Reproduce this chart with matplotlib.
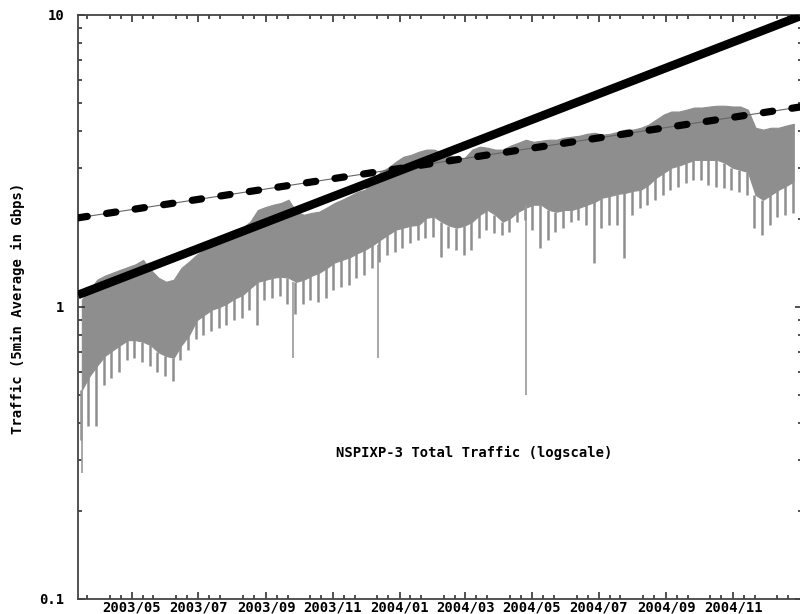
import matplotlib
matplotlib.use("Agg")
import matplotlib.pyplot as plt
import matplotlib.dates as mdates
from matplotlib.ticker import FixedLocator, FixedFormatter, LogLocator, NullFormatter
import pandas as pd

# weekly samples of the 5min traffic (Gbps)
week_start = pd.date_range("2003-03-13", periods=94, freq="7D")
peak_gbps = [
    1.06, 1.14, 1.24, 1.28, 1.31, 1.34, 1.37, 1.40, 1.45, 1.34,
    1.26, 1.22, 1.24, 1.36, 1.43, 1.51, 1.57, 1.63, 1.72, 1.79,
    1.84, 1.87, 1.96, 2.15, 2.20, 2.24, 2.27, 2.33, 2.12, 2.07,
    2.10, 2.12, 2.19, 2.27, 2.33, 2.40, 2.48, 2.52, 2.73, 2.90,
    3.00, 3.14, 3.27, 3.32, 3.40, 3.46, 3.46, 3.38, 3.32, 3.24,
    3.24, 3.46, 3.54, 3.51, 3.46, 3.46, 3.57, 3.65, 3.74, 3.68,
    3.71, 3.74, 3.74, 3.80, 3.83, 3.86, 3.92, 3.95, 3.89, 3.92,
    3.98, 4.05, 4.05, 4.11, 4.21, 4.38, 4.56, 4.67, 4.67, 4.74,
    4.82, 4.82, 4.86, 4.89, 4.89, 4.86, 4.86, 4.74, 4.11, 4.05,
    4.11, 4.11, 4.18, 4.24,
]
body_gbps = [
    0.52, 0.58, 0.63, 0.68, 0.71, 0.74, 0.77, 0.77, 0.76, 0.74,
    0.70, 0.68, 0.67, 0.74, 0.80, 0.90, 0.94, 0.98, 1.00, 1.03,
    1.07, 1.10, 1.16, 1.22, 1.24, 1.26, 1.27, 1.26, 1.22, 1.24,
    1.28, 1.31, 1.36, 1.42, 1.45, 1.48, 1.53, 1.57, 1.63, 1.70,
    1.77, 1.84, 1.87, 1.90, 1.91, 2.02, 2.04, 1.96, 1.90, 1.87,
    1.90, 1.96, 2.07, 2.15, 2.07, 1.96, 2.02, 2.12, 2.19, 2.24,
    2.24, 2.15, 2.12, 2.15, 2.15, 2.19, 2.24, 2.29, 2.37, 2.40,
    2.44, 2.46, 2.50, 2.52, 2.62, 2.77, 2.88, 3.00, 3.05, 3.12,
    3.19, 3.19, 3.19, 3.19, 3.12, 3.00, 2.95, 2.90, 2.42, 2.33,
    2.42, 2.52, 2.60, 2.69,
]
dip_gbps = [
    0.35, 0.39, 0.39, 0.54, 0.57, 0.60, 0.66, 0.67, 0.65, 0.63,
    0.60, 0.58, 0.56, 0.66, 0.71, 0.78, 0.80, 0.83, 0.85, 0.87,
    0.90, 0.92, 0.98, 0.87, 1.06, 1.07, 1.09, 1.02, 0.95, 1.02,
    1.06, 1.04, 1.07, 1.14, 1.17, 1.19, 1.26, 1.29, 1.36, 1.43,
    1.51, 1.54, 1.59, 1.66, 1.70, 1.72, 1.74, 1.48, 1.59, 1.57,
    1.51, 1.57, 1.72, 1.84, 1.79, 1.77, 1.81, 1.96, 1.99, 1.84,
    1.59, 1.70, 1.81, 1.87, 1.96, 1.99, 1.91, 1.42, 1.87, 1.91,
    1.91, 1.47, 2.07, 2.19, 2.24, 2.33, 2.42, 2.52, 2.58, 2.66,
    2.73, 2.73, 2.62, 2.58, 2.56, 2.52, 2.48, 2.42, 1.87, 1.77,
    1.91, 2.04, 2.07, 2.10,
]
outage_dates = pd.to_datetime(["2003-03-17", "2003-09-26", "2003-12-12", "2004-04-26"])
outage_gbps = [0.27, 0.67, 0.67, 0.50]
outage_base = [0.52, 1.22, 1.63, 2.24]

# fitted growth lines (end points)
trend_dates = pd.to_datetime(["2003-03-13", "2005-01-01"])
fast_trend = [1.10, 9.9]
slow_trend = [2.02, 4.84]

x_ticks = pd.to_datetime(["2003-05-01", "2003-07-01", "2003-09-01", "2003-11-01",
                          "2004-01-01", "2004-03-01", "2004-05-01", "2004-07-01",
                          "2004-09-01", "2004-11-01"])
x_start = pd.Timestamp("2003-03-13")
x_end = pd.Timestamp("2005-01-03")

FONT = dict(family="DejaVu Sans Mono", weight="bold", size=10)
GRAY = "#8e8e8e"


def main():
    fig = plt.figure(figsize=(8, 6.14), dpi=100)
    ax = fig.add_axes([78 / 800, 15 / 614, 724 / 800, 584 / 614])

    mid = week_start + pd.Timedelta(hours=84)
    dip_x = week_start + pd.Timedelta(hours=60)
    ax.fill_between(mid, body_gbps, peak_gbps, color=GRAY, lw=0.8, edgecolor=GRAY)
    ax.vlines(dip_x, dip_gbps, body_gbps, color=GRAY, lw=1.8)
    ax.vlines(outage_dates, outage_gbps, outage_base, color="#999999", lw=1.2)

    ax.plot(trend_dates, slow_trend, color="#666666", lw=0.8, zorder=3)
    ax.plot(trend_dates, slow_trend, color="black", lw=5.2,
            linestyle=(0, (1.3, 2.7)), dash_capstyle="round", zorder=4)
    ax.plot(trend_dates, fast_trend, color="black", lw=6.2,
            solid_capstyle="butt", zorder=5)

    ax.set_yscale("log")
    ax.set_ylim(0.1, 10)
    ax.set_xlim(x_start, x_end)

    ax.xaxis.set_major_locator(FixedLocator(mdates.date2num(x_ticks)))
    ax.xaxis.set_major_formatter(mdates.DateFormatter("%Y/%m"))
    ax.xaxis.set_minor_locator(mdates.DayLocator(bymonthday=[11, 21]))
    ax.yaxis.set_major_locator(FixedLocator([0.1, 1, 10]))
    ax.yaxis.set_major_formatter(FixedFormatter(["0.1", "1", "10"]))
    ax.yaxis.set_minor_locator(LogLocator(base=10, subs=range(2, 10)))
    ax.yaxis.set_minor_formatter(NullFormatter())

    ax.tick_params(which="both", direction="in", top=True, right=True,
                   color="#333333", width=1.2)
    ax.tick_params(which="major", length=5)
    ax.tick_params(which="minor", length=3)
    ax.tick_params(axis="x", which="major", pad=1)
    ax.tick_params(axis="y", which="major", pad=10)
    for lab in ax.get_xticklabels() + ax.get_yticklabels():
        lab.set_fontfamily(FONT["family"])
        lab.set_fontweight("bold")
        lab.set_fontsize(FONT["size"])
    for sp in ax.spines.values():
        sp.set_color("#444444")
        sp.set_linewidth(1.3)

    ax.text(0.547, 0.25, "NSPIXP-3 Total Traffic (logscale)", transform=ax.transAxes,
            ha="center", va="center", **FONT)
    fig.text(18 / 800, 1 - 308 / 614, "Traffic (5min Average in Gbps)",
             rotation=90, ha="center", va="center", **FONT)

    fig.savefig("out.png", dpi=100)
    plt.close(fig)


if __name__ == "__main__":
    main()
